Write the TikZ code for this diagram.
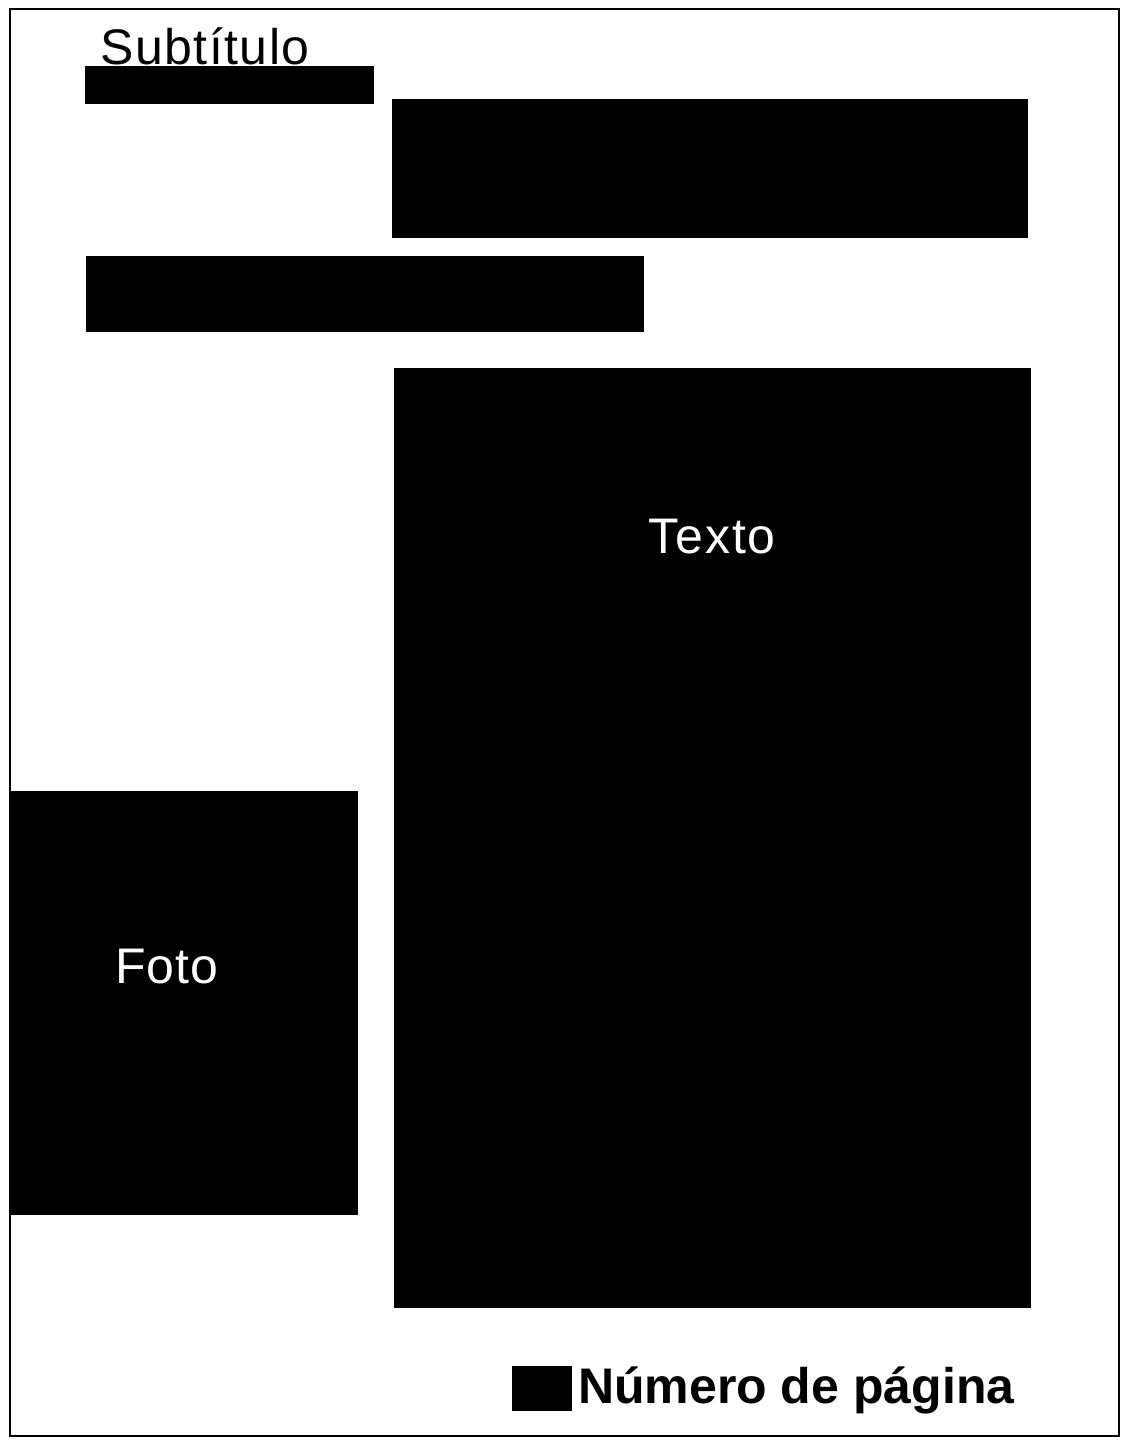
\documentclass[tikz,border=0pt]{standalone}
\usepackage{fontspec}
\setmainfont{Liberation Sans}
\begin{document}
\begin{tikzpicture}[x=1pt,y=-1pt,
  blk/.style={fill=black,draw=none,inner sep=0pt,outer sep=0pt,rectangle,anchor=north west},
  big/.style={font=\fontsize{50}{60}\selectfont,inner sep=0pt,anchor=base west},
  bigb/.style={font=\fontsize{50}{60}\selectfont\bfseries,inner sep=0pt,anchor=base west}]
\useasboundingbox (0,0) rectangle (1123,1440);
\fill[white] (0,0) rectangle (1123,1440);
\draw[line width=2pt] (10,9) rectangle (1119,1436);
\node[blk,minimum width=289pt,minimum height=38pt] (subbar) at (85,66) {};
\node[blk,minimum width=636pt,minimum height=139pt] (topblock) at (392,99) {};
\node[blk,minimum width=558pt,minimum height=76pt] (midbar) at (86,256) {};
\node[blk,minimum width=637pt,minimum height=940pt] (texto) at (394,368) {};
\node[blk,minimum width=348pt,minimum height=424pt] (foto) at (10,791) {};
\node[blk,minimum width=60pt,minimum height=45pt] (pagebox) at (512,1366) {};
\node[big] (subt) at (100,64) {\addfontfeatures{LetterSpace=3}Subtítulo};
\node[big,white] (textolbl) at (648,553) {\addfontfeatures{LetterSpace=4}Texto};
\node[big,white] (fotolbl) at (115,983) {\addfontfeatures{LetterSpace=2}Foto};
\node[bigb] (pagelbl) at (578,1403) {Número de página};
\end{tikzpicture}
\end{document}
